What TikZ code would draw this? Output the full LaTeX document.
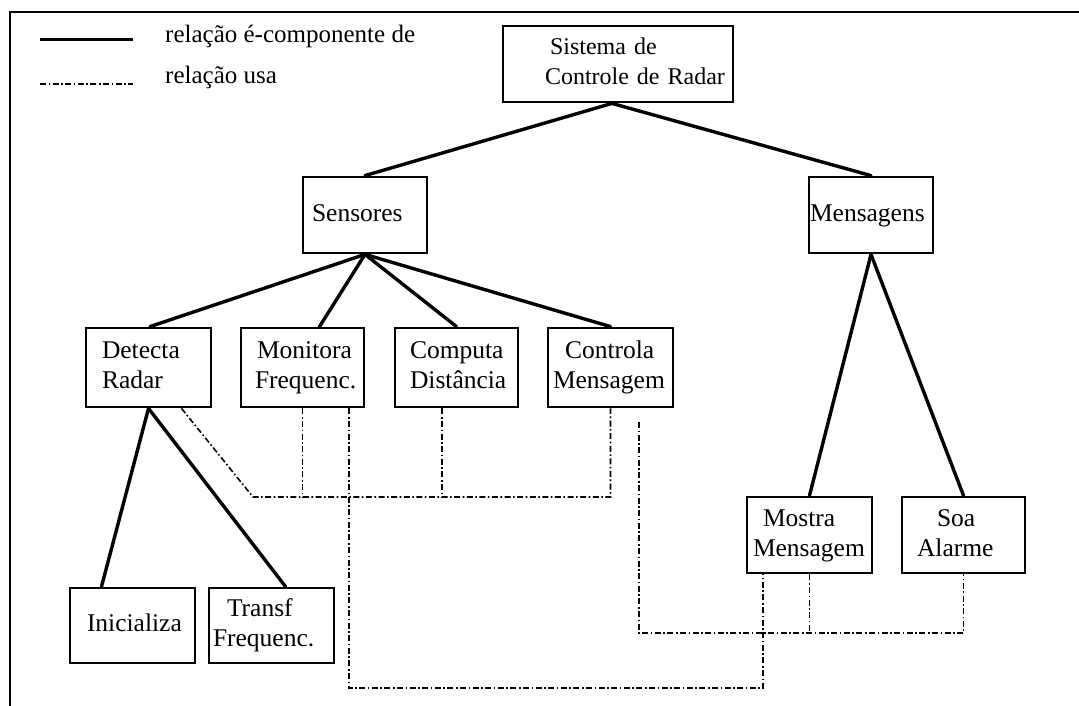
\documentclass[tikz,border=0pt]{standalone}
\usepackage{fontspec}
\setmainfont{Liberation Serif}
\usetikzlibrary{calc}

\tikzset{
  box/.style={draw, line width=2.8pt, rectangle, inner ysep=0pt,
    minimum height=77pt, align=left,
    font=\fontsize{25.5}{30}\selectfont},
  % width of the box and left padding of its text
  boxsize/.style 2 args={minimum width=#1pt, inner xsep=#2pt},
  part/.style={line width=3.4pt, line cap=round},
  uses/.style={line width=1.6pt, dash pattern=on 6pt off 2.5pt on 1.6pt off 2.5pt},
  legendtext/.style={anchor=base west, inner sep=0pt, font=\fontsize{25}{30}\selectfont},
  frameline/.style={line width=2.6pt}
}
% one unbreakable line of a box label, with an optional indent
\newcommand{\boxline}[2][0pt]{\mbox{\strut\hspace*{#1}#2}}

\begin{document}
\begin{tikzpicture}[x=1pt, y=-1pt]
  \useasboundingbox (0,0) rectangle (1079,706);
  \fill[white] (0,0) rectangle (1079,706);

  % open frame: top and left edges
  \draw[frameline] (10,706) -- (10,12) -- (1079,12);

  % legend
  \coordinate (ls1) at (40,40);
  \coordinate (ls2) at (133,40);
  \coordinate (ld1) at (40,84);
  \coordinate (ld2) at (133,84);
  \draw[line width=3pt] (ls1) -- (ls2);
  \draw[uses] (ld1) -- (ld2);
  \node[legendtext] (lg1) at (165,43) {relação é-componente de};
  \node[legendtext] (lg2) at (165,84) {relação usa};

  % modules
  \node[box, boxsize={230}{42}, text width=146pt, minimum height=76pt,
        font=\fontsize{24}{30}\selectfont] (sis) at (618,64)
    {\boxline[5pt]{Sistema de}\\\boxline{Controle de Radar}};
  \node[box, boxsize={124}{9}, text width=106pt, minimum height=76pt] (sen) at (365,215) {\boxline{Sensores}};
  \node[box, boxsize={124}{1}, text width=122pt, minimum height=76pt] (men) at (871,215) {\boxline{Mensagens}};

  \node[box, boxsize={125}{16}, text width=93pt, minimum height=79pt] (det) at (148.5,367.5) {\boxline{Detecta}\\\boxline{Radar}};
  \node[box, boxsize={123}{14}, text width=95pt, minimum height=79pt] (mon) at (302.5,367.5) {\boxline[2pt]{Monitora}\\\boxline{Frequenc.}};
  \node[box, boxsize={123}{15}, text width=93pt, minimum height=79pt] (com) at (456.5,367.5) {\boxline{Computa}\\\boxline{Distância}};
  \node[box, boxsize={125}{5}, text width=115pt, minimum height=79pt] (con) at (610.5,367.5) {\boxline[12pt]{Controla}\\\boxline{Mensagem}};

  \node[box, boxsize={125}{17}, text width=91pt, minimum height=75pt] (ini) at (132.5,625.5) {\boxline{Inicializa}};
  \node[box, boxsize={125}{4}, text width=117pt, minimum height=75pt] (tra) at (271.5,625.5) {\boxline[14pt]{Transf}\\\boxline{Frequenc.}};

  \node[box, boxsize={125}{6}, text width=113pt, minimum height=76pt] (mos) at (809.5,535) {\boxline[10pt]{Mostra}\\\boxline{Mensagem}};
  \node[box, boxsize={123}{15}, text width=93pt, minimum height=76pt] (soa) at (963.5,535) {\boxline[20pt]{Soa}\\\boxline{Alarme}};

  % composition links
  \draw[part] ([xshift=-6pt]sis.south) -- (sen.north);
  \draw[part] ([xshift=-6pt]sis.south) -- (men.north);
  \draw[part] (sen.south) -- ([xshift=1.5pt]det.north);
  \draw[part] (sen.south) -- ([xshift=17pt]mon.north);
  \draw[part] (sen.south) -- (com.north);
  \draw[part] (sen.south) -- (con.north);
  \draw[part] (det.south) -- ([xshift=-31pt]ini.north);
  \draw[part] (det.south) -- ([xshift=14pt]tra.north);
  \draw[part] (men.south) -- (mos.north);
  \draw[part] (men.south) -- (soa.north);

  % usage links
  \coordinate (j1) at (253,497);
  \draw[uses] ([xshift=33pt]det.south) -- (j1) -- (con.south |- j1) -- (con.south);
  \draw[uses] (mon.south) -- (mon.south |- j1);
  \draw[uses] ([xshift=-14.5pt]com.south) -- ([xshift=-14.5pt]com.south |- j1);

  \coordinate (j2) at (0,688);
  \draw[uses] ([xshift=46.5pt]mon.south) -- ([xshift=46.5pt]mon.south |- j2)
    -- ([xshift=-46.5pt]mos.south |- j2) -- ([xshift=-46.5pt]mos.south);

  \coordinate (c1) at (639,422);
  \coordinate (j3) at (639,633);
  \draw[uses] (c1) -- (j3) -- (soa.south |- j3) -- (soa.south);
  \draw[uses] (mos.south) -- (mos.south |- j3);
\end{tikzpicture}
\end{document}
